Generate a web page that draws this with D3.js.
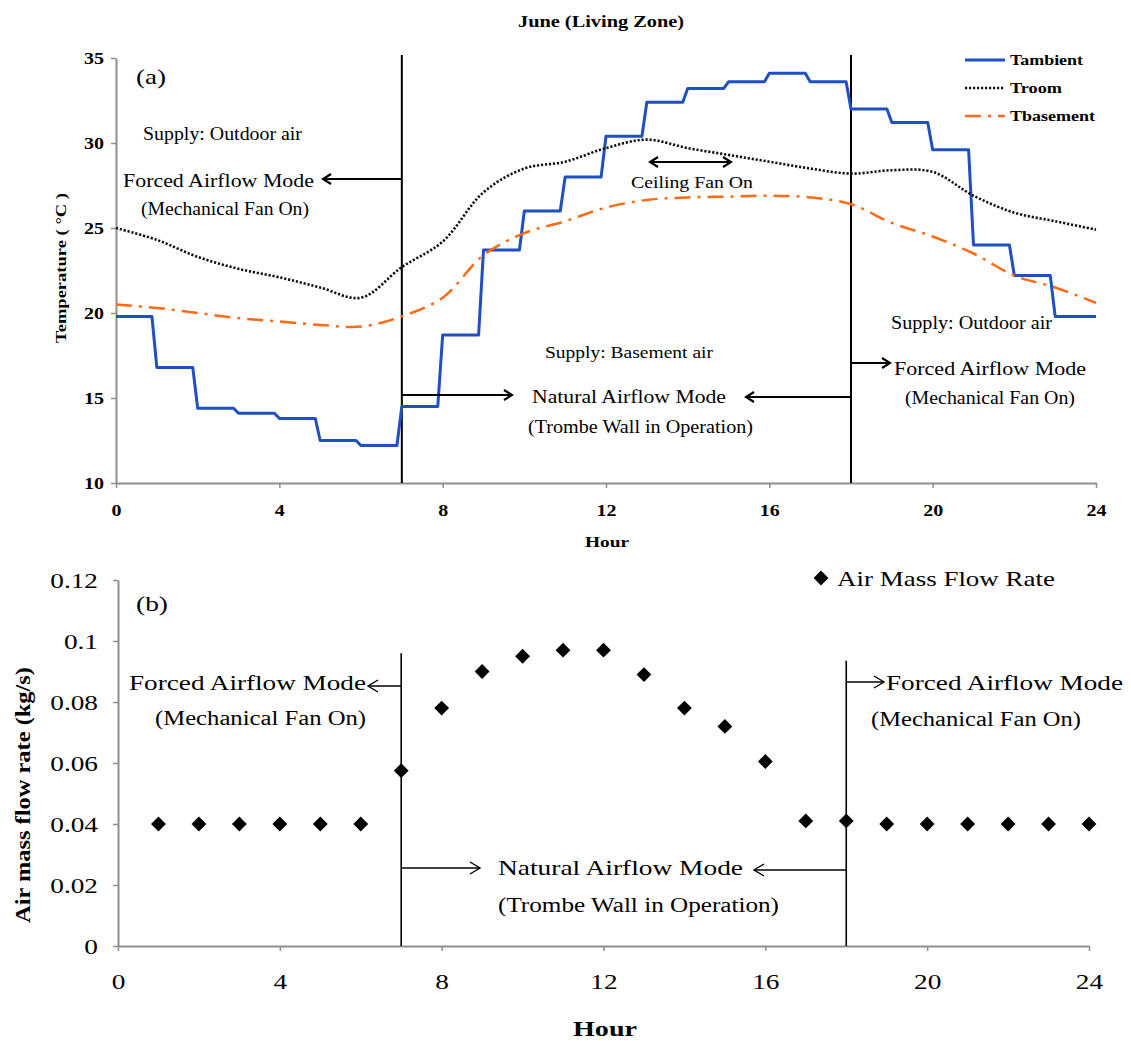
<!DOCTYPE html>
<html>
<head>
<meta charset="utf-8">
<script src="https://cdn.jsdelivr.net/npm/d3@7"></script>
<style>
  body { margin: 0; background: #fff; }
  svg { display: block; font-family: "Liberation Serif", "Times New Roman", serif; }
</style>
</head>
<body>
<div id="chart"></div>
<script>
// hourly temperatures, June living zone
const hours = d3.range(0, 25);
const tAmbient = [19.8, 16.8, 14.4, 14.1, 13.8, 12.5, 12.2, 14.5, 18.7, 23.7, 26.0, 28.0,
                  30.4, 32.4, 33.2, 33.6, 34.1, 33.6, 32.0, 31.2, 29.6, 24.0, 22.2, 19.8];
const tRoom = [25.0, 24.3, 23.3, 22.6, 22.1, 21.5, 20.9, 22.7, 24.2, 27.1, 28.5, 28.9, 29.7,
               30.2, 29.7, 29.3, 28.9, 28.5, 28.2, 28.4, 28.3, 26.9, 25.9, 25.4, 24.9];
const tBasement = [20.5, 20.3, 20.0, 19.7, 19.5, 19.3, 19.2, 19.8, 20.9, 23.4, 24.7, 25.4, 26.2,
                   26.65, 26.8, 26.85, 26.9, 26.8, 26.4, 25.3, 24.5, 23.5, 22.2, 21.5, 20.6];

// air mass flow rate (kg/s), hours 1..24
const flowHours = d3.range(1, 25);
const flowRate = [0.040, 0.040, 0.040, 0.040, 0.040, 0.040, 0.0575, 0.078, 0.090, 0.095, 0.097, 0.097,
                  0.089, 0.078, 0.072, 0.0605, 0.041, 0.041, 0.040, 0.040, 0.040, 0.040, 0.040, 0.040];

const hourTicks = [0, 4, 8, 12, 16, 20, 24];
const tempTicks = [10, 15, 20, 25, 30, 35];
const flowTicks = [0, 0.02, 0.04, 0.06, 0.08, 0.1, 0.12];
const modeHours = [7, 18];

const W = 1131, H = 1041;
const svg = d3.select("#chart").append("svg").attr("width", W).attr("height", H);

const defs = svg.append("defs");
function addMarker(id, w, h, sw) {
  defs.append("marker")
    .attr("id", id)
    .attr("markerUnits", "userSpaceOnUse")
    .attr("viewBox", `${-w - 2} ${-h - 2} ${w + 4} ${2 * h + 4}`)
    .attr("refX", 0).attr("refY", 0)
    .attr("markerWidth", w + 4).attr("markerHeight", 2 * h + 4)
    .attr("orient", "auto-start-reverse")
    .append("path")
    .attr("d", `M${-w},${-h}L0,0L${-w},${h}`)
    .attr("fill", "none").attr("stroke", "#000").attr("stroke-width", sw);
}
addMarker("headA", 8, 5, 2.2);
addMarker("headB", 10, 6, 1.4);

// text helper: left x, centre y, optional target width
function label(g, str, x, y, o) {
  const t = g.append("text")
    .attr("x", x).attr("y", y).attr("dy", "0.35em")
    .attr("font-size", o.size)
    .attr("font-weight", o.bold ? "bold" : "normal")
    .attr("fill", "#000")
    .text(str);
  if (o.w) t.attr("textLength", o.w).attr("lengthAdjust", "spacingAndGlyphs");
  return t;
}

function arrow(g, x1, x2, y, marker, sw, both) {
  const l = g.append("line")
    .attr("x1", x1).attr("x2", x2).attr("y1", y).attr("y2", y)
    .attr("stroke", "#000").attr("stroke-width", sw)
    .attr("marker-end", `url(#${marker})`);
  if (both) l.attr("marker-start", `url(#${marker})`);
}

function styleAxis(ax, size, bold, sx) {
  ax.attr("font-family", null).attr("font-size", size);
  ax.select(".domain").attr("stroke", "#8f8f8f").attr("stroke-width", 2);
  ax.selectAll(".tick line").attr("stroke", "#8f8f8f").attr("stroke-width", 1.5);
  ax.selectAll(".tick text")
    .attr("fill", "#000")
    .attr("font-weight", bold ? "bold" : "normal")
    .each(function () {
      const t = d3.select(this);
      const x = +t.attr("x") || 0;
      t.attr("x", x / sx).attr("transform", `scale(${sx},1)`);
    });
}

// ---------------- (a) temperatures ----------------
const xA = d3.scaleLinear().domain([0, 24]).range([116, 1096]);
const yA = d3.scaleLinear().domain([10, 35]).range([483, 58]);
const gA = svg.append("g");

const axA = gA.append("g").attr("transform", `translate(0,${yA(10)})`)
  .call(d3.axisBottom(xA).tickValues(hourTicks).tickSize(5).tickSizeOuter(0));
axA.selectAll(".tick text").attr("y", 27).attr("dy", "0.35em");
styleAxis(axA, 16, true, 1.25);

const ayA = gA.append("g").attr("transform", `translate(${xA(0)},0)`)
  .call(d3.axisLeft(yA).tickValues(tempTicks).tickSize(5).tickPadding(7).tickSizeOuter(0));
ayA.selectAll(".tick text").attr("dy", "0.35em");
styleAxis(ayA, 16, true, 1.25);

// mode separators
modeHours.forEach(h => {
  gA.append("line")
    .attr("x1", xA(h)).attr("x2", xA(h)).attr("y1", 55).attr("y2", yA(10))
    .attr("stroke", "#000").attr("stroke-width", 2);
});

// Tambient as hourly steps with short ramps
const ambPts = [];
tAmbient.forEach((v, i) => {
  ambPts.push([i, v]);
  ambPts.push([i === tAmbient.length - 1 ? 24 : i + 0.88, v]);
});
const lineA = d3.line().x(d => xA(d[0])).y(d => yA(d[1]));
gA.append("path").datum(ambPts).attr("d", lineA)
  .attr("fill", "none").attr("stroke", "#1f4fc0").attr("stroke-width", 3)
  .attr("stroke-linejoin", "round");

const smooth = d3.line().x((d, i) => xA(hours[i])).y(d => yA(d)).curve(d3.curveCatmullRom.alpha(0.5));
gA.append("path").datum(tBasement).attr("d", smooth)
  .attr("fill", "none").attr("stroke", "#ff6a13").attr("stroke-width", 2.5)
  .attr("stroke-dasharray", "16,7,3,7");
gA.append("path").datum(tRoom).attr("d", smooth)
  .attr("fill", "none").attr("stroke", "#111").attr("stroke-width", 2.6)
  .attr("stroke-dasharray", "2.2,1.8");

// legend
const legA = [
  { name: "Tambient", color: "#1f4fc0", dash: null, w: 73, sw: 3 },
  { name: "Troom", color: "#111", dash: "2.2,1.8", w: 52, sw: 2.6 },
  { name: "Tbasement", color: "#ff6a13", dash: "16,7,3,7", w: 85, sw: 2.5 }
];
legA.forEach((d, i) => {
  const y = 60 + i * 28;
  gA.append("line").attr("x1", 965).attr("x2", 1005).attr("y1", y).attr("y2", y)
    .attr("stroke", d.color).attr("stroke-width", d.sw).attr("stroke-dasharray", d.dash);
  label(gA, d.name, 1010, y, { size: 15, bold: true, w: d.w });
});

// titles and notes
label(gA, "June (Living Zone)", 518, 21, { size: 16, bold: true, w: 166 });
label(gA, "(a)", 136, 77, { size: 21, w: 30 });
label(gA, "Hour", 585, 542, { size: 15, bold: true, w: 44 });
gA.append("text")
  .attr("transform", "translate(61,343) rotate(-90)")
  .attr("dy", "0.35em").attr("font-size", 14).attr("font-weight", "bold")
  .attr("textLength", 150).attr("lengthAdjust", "spacingAndGlyphs")
  .text("Temperature ( °C )");

label(gA, "Supply: Outdoor air", 143, 134, { size: 18, w: 159 });
label(gA, "Forced Airflow Mode", 123, 180, { size: 19, w: 191 });
label(gA, "(Mechanical Fan On)", 141, 209, { size: 18, w: 168 });
arrow(gA, xA(7), 323, 179, "headA", 2);

arrow(gA, 650, 731, 162, "headA", 1.8, true);
label(gA, "Ceiling Fan On", 631, 182, { size: 17, w: 122 });

label(gA, "Supply: Basement air", 545, 352, { size: 17, w: 168 });
label(gA, "Natural Airflow Mode", 532, 397, { size: 18, w: 194 });
label(gA, "(Trombe Wall in Operation)", 528, 427, { size: 18, w: 225 });
arrow(gA, xA(7), 512, 395, "headA", 2);
arrow(gA, xA(18), 746, 397, "headA", 2);

label(gA, "Supply: Outdoor air", 891, 323, { size: 18, w: 161 });
label(gA, "Forced Airflow Mode", 894, 368, { size: 19, w: 192 });
label(gA, "(Mechanical Fan On)", 905, 398, { size: 18, w: 170 });
arrow(gA, xA(18), 890, 363, "headA", 2);

// ---------------- (b) air mass flow ----------------
const xB = d3.scaleLinear().domain([0, 24]).range([118, 1089]);
const yB = d3.scaleLinear().domain([0, 0.12]).range([946, 580]);
const gB = svg.append("g");

const axB = gB.append("g").attr("transform", `translate(0,${yB(0)})`)
  .call(d3.axisBottom(xB).tickValues(hourTicks).tickSize(5).tickSizeOuter(0));
axB.selectAll(".tick text").attr("y", 36).attr("dy", "0.35em");
styleAxis(axB, 21, false, 1.3);

const ayB = gB.append("g").attr("transform", `translate(${xB(0)},0)`)
  .call(d3.axisLeft(yB).tickValues(flowTicks).tickSize(5).tickPadding(15).tickSizeOuter(0)
    .tickFormat(d => String(+d.toFixed(2))));
ayB.selectAll(".tick text").attr("dy", "0.35em");
styleAxis(ayB, 21, false, 1.3);

const lineTops = [0.096, 0.0935];
modeHours.forEach((h, i) => {
  gB.append("line")
    .attr("x1", xB(h)).attr("x2", xB(h)).attr("y1", yB(lineTops[i])).attr("y2", yB(0))
    .attr("stroke", "#000").attr("stroke-width", 1.6);
});

const diamond = d3.symbol().type(d3.symbolSquare).size(110);
gB.selectAll("path.pt").data(flowRate).join("path")
  .attr("class", "pt")
  .attr("d", diamond)
  .attr("transform", (d, i) => `translate(${xB(flowHours[i])},${yB(d)}) rotate(45)`)
  .attr("fill", "#000");

// legend
gB.append("path").attr("d", diamond).attr("transform", "translate(821,578) rotate(45)").attr("fill", "#000");
label(gB, "Air Mass Flow Rate", 837, 578, { size: 22, w: 218 });

label(gB, "(b)", 136, 603, { size: 22, w: 32 });
label(gB, "Hour", 573, 1028, { size: 22, bold: true, w: 64 });
gB.append("text")
  .attr("transform", "translate(23,923) rotate(-90)")
  .attr("dy", "0.35em").attr("font-size", 20).attr("font-weight", "bold")
  .attr("textLength", 256).attr("lengthAdjust", "spacingAndGlyphs")
  .text("Air mass flow rate (kg/s)");

label(gB, "Forced Airflow Mode", 129, 683, { size: 21, w: 237 });
label(gB, "(Mechanical  Fan On)", 155, 718, { size: 20, w: 211 });
arrow(gB, xB(7), 368, 686, "headB", 1.4);

label(gB, "Forced Airflow Mode", 886, 683, { size: 21, w: 237 });
label(gB, "(Mechanical  Fan On)", 871, 719, { size: 20, w: 210 });
arrow(gB, xB(18), 884, 682, "headB", 1.4);

label(gB, "Natural Airflow Mode", 498, 868, { size: 21, w: 245 });
label(gB, "(Trombe  Wall in Operation)", 498, 905, { size: 20, w: 281 });
arrow(gB, xB(7), 480, 868, "headB", 1.4);
arrow(gB, xB(18), 754, 870, "headB", 1.4);
</script>
</body>
</html>
